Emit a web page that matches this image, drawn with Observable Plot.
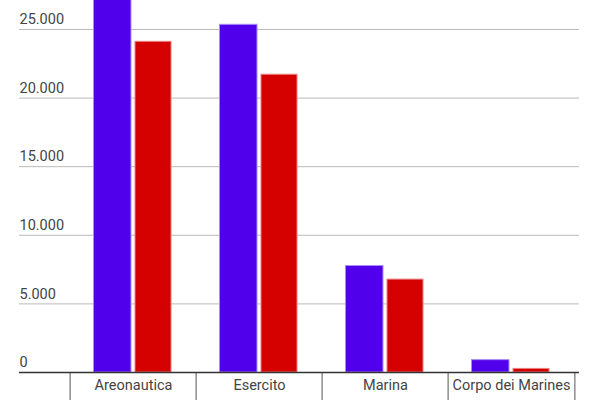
<!DOCTYPE html>
<html>
<head>
<meta charset="utf-8">
<script src="https://cdn.jsdelivr.net/npm/d3@7"></script>
<script src="https://cdn.jsdelivr.net/npm/@observablehq/plot@0.6"></script>
<style>
  html, body { margin: 0; padding: 0; background: #fff; }
  #chart svg { display: block; }
</style>
</head>
<body>
<div id="chart"></div>
<script>
const categories = ["Areonautica", "Esercito", "Marina", "Corpo dei Marines"];
const seriesA = [29000, 25340, 7760, 900];   // blue
const seriesB = [24100, 21700, 6770, 260];   // red
const yTicks = [0, 5000, 10000, 15000, 20000, 25000];
const yTickLabels = ["0", "5.000", "10.000", "15.000", "20.000", "25.000"];

const dataA = categories.map((c, i) => ({category: c, value: seriesA[i]}));
const dataB = categories.map((c, i) => ({category: c, value: seriesB[i]}));

const font = "Roboto, 'Noto Sans', sans-serif";

const chart = Plot.plot({
  width: 600,
  height: 400,
  marginTop: 0,
  marginBottom: 28,
  marginLeft: 19,
  marginRight: 21,
  style: {fontFamily: font, fontSize: "14px", color: "#444", background: "#fff"},
  x: {domain: categories, range: [68, 575.5], padding: 0, axis: null, label: null},
  y: {domain: [0, 27112], axis: null, label: null},
  marks: [
    Plot.gridY(yTicks, {stroke: "#bbb", strokeOpacity: 1, strokeWidth: 1}),
    Plot.barY(dataA, {x: "category", y: "value", fill: "#5000EA", stroke: "#A98BF5", strokeWidth: 1, insetLeft: 23.5, insetRight: 65, clip: true}),
    Plot.barY(dataB, {x: "category", y: "value", fill: "#D50000", stroke: "#EE8080", strokeWidth: 1, insetLeft: 65, insetRight: 25, clip: true}),
    Plot.axisX(categories, {anchor: "bottom", tickSize: 28, dx: -63.4, text: null, label: null, stroke: "#555", strokeWidth: 1}),
    Plot.axisX(categories.slice(-1), {anchor: "bottom", tickSize: 28, dx: 63.4, text: null, label: null, stroke: "#555", strokeWidth: 1}),
    Plot.axisX(categories, {anchor: "bottom", tickSize: 0, tickPadding: 7, label: null, fontSize: 14.5, fill: "#444", fontFamily: font}),
    Plot.ruleY([0], {stroke: "#333", strokeWidth: 1.6}),
    Plot.axisY(yTicks, {anchor: "left", tickSize: 0, tickPadding: 0, textAnchor: "start", label: null, dy: -10, fontSize: 14.5, fill: "#444", fontFamily: font,
      tickFormat: (d) => yTickLabels[yTicks.indexOf(d)]})
  ]
});
document.getElementById("chart").appendChild(chart);
</script>
</body>
</html>
